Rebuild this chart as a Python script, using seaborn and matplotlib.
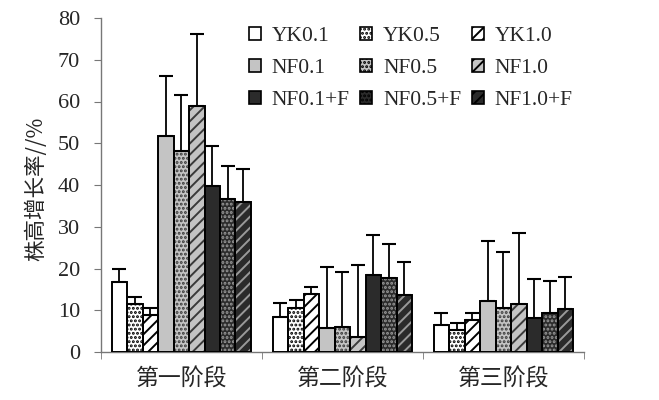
import numpy as np
import pandas as pd
import matplotlib
matplotlib.use("Agg")
import matplotlib.pyplot as plt
from matplotlib.patches import Rectangle
import seaborn as sns

# -------------------------------
# data
# -------------------------------
stages = ["第一阶段", "第二阶段", "第三阶段"]
treatments = ["YK0.1", "YK0.5", "YK1.0",
              "NF0.1", "NF0.5", "NF1.0",
              "NF0.1+F", "NF0.5+F", "NF1.0+F"]

yk01 = [16.8, 8.3, 6.4]
yk05 = [11.4, 10.5, 5.2]
yk10 = [8.9, 13.9, 7.7]
nf01 = [51.7, 5.8, 12.2]
nf05 = [48.2, 6.0, 10.5]
nf10 = [58.9, 3.5, 11.4]
nf01f = [39.8, 18.5, 8.1]
nf05f = [36.6, 17.8, 9.3]
nf10f = [35.9, 13.6, 10.2]

yk01_sd = [3.2, 3.4, 3.0]
yk05_sd = [1.8, 2.0, 1.8]
yk10_sd = [1.6, 1.7, 1.7]
nf01_sd = [14.4, 14.5, 14.5]
nf05_sd = [13.3, 13.2, 13.5]
nf10_sd = [17.3, 17.3, 17.2]
nf01f_sd = [9.5, 9.6, 9.3]
nf05f_sd = [8.0, 8.1, 7.8]
nf10f_sd = [7.9, 7.9, 7.8]

means = [yk01, yk05, yk10, nf01, nf05, nf10, nf01f, nf05f, nf10f]
sds = [yk01_sd, yk05_sd, yk10_sd, nf01_sd, nf05_sd, nf10_sd,
       nf01f_sd, nf05f_sd, nf10f_sd]

rows = []
for t, m, s in zip(treatments, means, sds):
    for st, v, e in zip(stages, m, s):
        rows.append({"stage": st, "treatment": t, "value": v, "sd": e})
df = pd.DataFrame(rows)

# -------------------------------
# style
# -------------------------------
sns.set_style("white")
plt.rcParams["font.family"] = ["Liberation Serif", "Noto Sans CJK SC"]
plt.rcParams["hatch.linewidth"] = 1.4

face = {"YK": "white", "NF": "#c4c4c4", "NFF": "#2b2b2b"}
hatch_col = {"YK": "black", "NF": "#3a3a3a", "NFF": "#9a9a9a"}
hatches = {"0.1": "", "0.5": "....", "1.0": "///"}


def group_of(t):
    if t.endswith("+F"):
        return "NFF"
    return t[:2]


def dose_of(t):
    return t.replace("+F", "")[-3:]


palette = {t: face[group_of(t)] for t in treatments}

fig = plt.figure(figsize=(6.59, 4.00), dpi=100)
ax = fig.add_axes([0.153, 0.12, 0.733, 0.835])

sns.barplot(data=df, x="stage", y="value", hue="treatment",
            order=stages, hue_order=treatments, palette=palette,
            errorbar=None, width=0.865, saturation=1, legend=False, ax=ax)

handles = []
for cont, t in zip(ax.containers, treatments):
    g = group_of(t)
    h = hatches[dose_of(t)]
    for patch in cont:
        patch.set_hatch(h)
        patch.set_edgecolor(hatch_col[g])
        patch.set_linewidth(0)
        ax.add_patch(Rectangle(patch.get_xy(), patch.get_width(), patch.get_height(),
                               facecolor="none", edgecolor="black", lw=1.4, zorder=3))
    xs = [p.get_x() + p.get_width() / 2 for p in cont]
    err = df[df.treatment == t]["sd"].values
    vals = df[df.treatment == t]["value"].values
    ax.errorbar(xs, vals, yerr=[np.zeros_like(err), err], fmt="none",
                ecolor="black", elinewidth=1.3, capsize=5, capthick=1.5, zorder=2)
    hp = Rectangle((0, 0), 1, 1, facecolor=face[g], edgecolor=hatch_col[g],
                   hatch=h, lw=0)
    handles.append(hp)

# -------------------------------
# axes
# -------------------------------
ax.set_ylim(0, 80)
ax.set_xlim(-0.5, 2.5)
ax.set_yticks(range(0, 81, 10))
ax.tick_params(axis="y", labelsize=16, length=5, color="#777777", left=True, pad=10)
ax.set_xticks([-0.5, 0.5, 1.5, 2.5], minor=True)
ax.tick_params(axis="x", which="major", length=0, pad=11)
ax.tick_params(axis="x", which="minor", length=5, color="#777777", bottom=True)
for lab in ax.get_xticklabels():
    lab.set_family(["Noto Sans CJK SC"])
    lab.set_fontsize(16.5)
ax.set_xlabel("")
ax.set_ylabel("株高增长率//%", fontsize=15.5, family=["Noto Sans CJK SC", "DejaVu Sans"])
ax.yaxis.set_label_coords(-0.11, 0.49)
sns.despine(ax=ax)
for s in ["left", "bottom"]:
    ax.spines[s].set_color("#777777")
    ax.spines[s].set_linewidth(1)

# legend: fill by row (matplotlib fills by column)
order = [0, 3, 6, 1, 4, 7, 2, 5, 8]
leg = ax.legend([handles[i] for i in order], [treatments[i] for i in order],
                ncol=3, frameon=False, fontsize=15.5, loc="upper right",
                bbox_to_anchor=(0.885, 0.96), bbox_transform=fig.transFigure,
                handlelength=0.55, handleheight=0.55, handletextpad=0.5,
                columnspacing=0.5, labelspacing=0.6, borderpad=0)
for p in leg.get_patches():
    p.set_linewidth(1.2)
    p.set_edgecolor("black")

fig.savefig("out.png", dpi=100)
